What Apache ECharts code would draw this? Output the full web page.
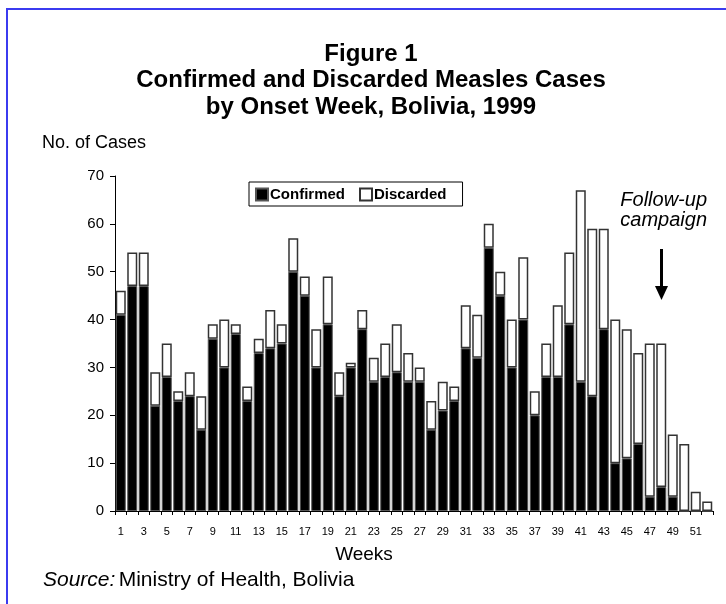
<!DOCTYPE html>
<html>
<head>
<meta charset="utf-8">
<script src="https://cdn.jsdelivr.net/npm/echarts@6/dist/echarts.min.js"></script>
<style>
  html, body { margin: 0; padding: 0; background: #fff; }
  #chart { width: 726px; height: 604px; }
</style>
</head>
<body>
<div id="chart"></div>
<script>
// weeks 1..52
const weeks = Array.from({ length: 52 }, (_, i) => String(i + 1));

// confirmed cases per onset week
const confirmed = [
  41, 47, 47, 22, 28, 23, 24, 17, 36, 30,
  37, 23, 33, 34, 35, 50, 45, 30, 39, 24,
  30, 38, 27, 28, 29, 27, 27, 17, 21, 23,
  34, 32, 55, 45, 30, 40, 20, 28, 28, 39,
  27, 24, 38, 10, 11, 14, 3, 5, 3, 0,
  0, 0
];

// discarded cases per onset week (bar top minus confirmed)
const discarded = [
  5, 7, 7, 7, 7, 2, 5, 7, 3, 10,
  2, 3, 3, 8, 4, 7, 4, 8, 10, 5,
  1, 4, 5, 7, 10, 6, 3, 6, 6, 3,
  9, 9, 5, 5, 10, 13, 5, 7, 15, 15,
  40, 35, 21, 30, 27, 19, 32, 30, 13, 14,
  4, 2
];

const FONT = "'Liberation Sans', Arial, sans-serif";

const chart = echarts.init(document.getElementById("chart"));

const option = {
  backgroundColor: "#fff",
  animation: false,
  textStyle: { fontFamily: FONT, color: "#000" },
  title: {
    text: "Figure 1\nConfirmed and Discarded Measles Cases\nby Onset Week, Bolivia, 1999",
    left: 366,
    textAlign: "center",
    top: 36,
    textStyle: {
      fontFamily: FONT,
      fontSize: 24,
      fontWeight: "bold",
      lineHeight: 26.5,
      color: "#000",
    },
  },
  legend: {
    left: 249,
    top: 182,
    borderColor: "#000",
    borderWidth: 1,
    padding: [5, 16, 4, 6],
    itemWidth: 12,
    itemHeight: 12,
    itemGap: 14,
    icon: "rect",
    data: ["Confirmed", "Discarded"],
    textStyle: { fontFamily: FONT, fontSize: 15, fontWeight: "bold", color: "#000", padding: [0, 0, 0, -3] },
  },
  grid: {
    left: 115,
    right: 13,
    top: 176,
    bottom: 93,
  },
  xAxis: {
    type: "category",
    data: weeks,
    axisLine: { lineStyle: { color: "#000", width: 1 } },
    axisTick: { show: true, interval: 0, length: 4, lineStyle: { color: "#000" } },
    axisLabel: { interval: 1, fontSize: 11, color: "#000", margin: 15, fontFamily: FONT },
  },
  yAxis: {
    type: "value",
    min: 0,
    max: 70,
    interval: 10,
    axisLine: { show: true, lineStyle: { color: "#000", width: 1 } },
    axisTick: { show: true, length: 5, lineStyle: { color: "#000" } },
    axisLabel: { fontSize: 15, color: "#000", margin: 11, fontFamily: FONT },
    splitLine: { show: false },
  },
  series: [
    {
      name: "Confirmed",
      type: "bar",
      stack: "cases",
      data: confirmed,
      barCategoryGap: "13%",
      itemStyle: { color: "#000", borderColor: "#555", borderWidth: 1 },
    },
    {
      name: "Discarded",
      type: "bar",
      stack: "cases",
      data: discarded,
      barCategoryGap: "13%",
      itemStyle: { color: "#fff", borderColor: "#333", borderWidth: 1.5 },
    },
  ],
  graphic: [
    {
      type: "polyline",
      shape: { points: [[7, 604], [7, 9], [726, 9]] },
      style: { stroke: "#3b3bf0", lineWidth: 2, fill: null },
      silent: true,
    },
    {
      type: "text",
      x: 42,
      y: 143,
      style: { text: "No. of Cases", font: "18px " + FONT, fill: "#000", textVerticalAlign: "middle" },
    },
    {
      type: "text",
      x: 707,
      y: 210,
      style: {
        text: "Follow-up\ncampaign",
        font: "italic 20px " + FONT,
        fill: "#000",
        textAlign: "right",
        textVerticalAlign: "middle",
        lineHeight: 20,
      },
    },
    {
      type: "line",
      shape: { x1: 661.5, y1: 249, x2: 661.5, y2: 288 },
      style: { stroke: "#000", lineWidth: 3 },
    },
    {
      type: "polygon",
      shape: { points: [[655, 286], [668, 286], [661.5, 300]] },
      style: { fill: "#000" },
    },
    {
      type: "text",
      x: 364,
      y: 555,
      style: { text: "Weeks", font: "19px " + FONT, fill: "#000", textAlign: "center", textVerticalAlign: "middle" },
    },
    {
      type: "text",
      x: 43,
      y: 580,
      style: {
        text: "{i|Source:} {n|Ministry of Health, Bolivia}",
        textVerticalAlign: "middle",
        rich: {
          i: { fontFamily: FONT, fontStyle: "italic", fontSize: 21, color: "#000" },
          n: { fontFamily: FONT, fontSize: 21, color: "#000" },
        },
      },
    },
  ],
};

chart.setOption(option);
</script>
</body>
</html>
